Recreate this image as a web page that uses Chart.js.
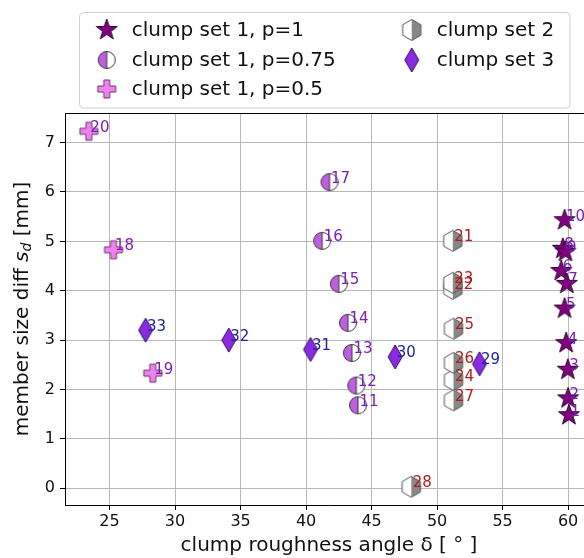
<!DOCTYPE html>
<html><head><meta charset="utf-8">
<script src="https://cdn.jsdelivr.net/npm/chart.js@4.4.1/dist/chart.umd.min.js"></script>
<style>html,body{margin:0;padding:0;overflow:hidden;background:#fff}#wrap{width:620px;height:558px}</style>
</head><body><div id="wrap"><canvas id="c" width="620" height="558" style="width:620px;height:558px"></canvas></div>
<script>
// ---- data ----
const seriesNames = ['clump set 1, p=1','clump set 1, p=0.75','clump set 1, p=0.5','clump set 2','clump set 3'];

const p1Ids = [1,2,3,4,5,6,7,8,9,10];
const p1X = [60.06,60.0,59.98,59.85,59.73,59.48,59.9,59.6,59.8,59.73];
const p1Y = [1.48,1.82,2.40,2.94,3.64,4.40,4.14,4.85,4.79,5.43];

const p075Ids = [11,12,13,14,15,16,17];
const p075X = [43.96,43.83,43.5,43.2,42.5,41.23,41.79];
const p075Y = [1.68,2.08,2.74,3.35,4.14,5.01,6.20];

const p05Ids = [18,19,20];
const p05X = [25.3,28.3,23.42];
const p05Y = [4.83,2.33,7.23];

const set2Ids = [21,22,23,24,25,26,27,28];
const set2X = [51.2,51.2,51.2,51.25,51.25,51.25,51.25,48.03];
const set2Y = [5.01,4.04,4.16,2.19,3.23,2.54,1.78,0.03];

const set3Ids = [29,30,31,32,33];
const set3X = [53.24,46.8,40.34,34.1,27.75];
const set3Y = [2.52,2.66,2.81,3.0,3.2];

const xTicks = [25,30,35,40,45,50,55,60];
const yTicks = [0,1,2,3,4,5,6,7];

// ---- markers ----
function mk(draw){const c=document.createElement('canvas');c.width=30;c.height=30;const g=c.getContext('2d');g.translate(15,15);draw(g);return c;}
const mStar = mk(g=>{g.beginPath();for(let i=0;i<10;i++){const r=i%2?4.4:11;const a=-Math.PI/2+i*Math.PI/5;const x=r*Math.cos(a),y=r*Math.sin(a);i?g.lineTo(x,y):g.moveTo(x,y);}g.closePath();g.fillStyle='#800080';g.fill();g.lineWidth=1;g.strokeStyle='#2b0a2b';g.stroke();});
const mHalfC = mk(g=>{const r=8.5;g.beginPath();g.arc(0,0,r,Math.PI/2,Math.PI*1.5);g.closePath();g.fillStyle='#bf5fdf';g.fill();g.beginPath();g.arc(0,0,r,-Math.PI/2,Math.PI/2);g.closePath();g.fillStyle='#fff';g.fill();g.beginPath();g.arc(0,0,r,0,Math.PI*2);g.moveTo(0,-r);g.lineTo(0,r);g.lineWidth=1;g.strokeStyle='#3a3a3a';g.stroke();});
const mPlus = mk(g=>{const a=3,b=9;const p=[[-a,-b],[a,-b],[a,-a],[b,-a],[b,a],[a,a],[a,b],[-a,b],[-a,a],[-b,a],[-b,-a],[-a,-a]];g.beginPath();p.forEach((q,i)=>i?g.lineTo(q[0],q[1]):g.moveTo(q[0],q[1]));g.closePath();g.fillStyle='#ee82ee';g.fill();g.lineWidth=1;g.strokeStyle='#6d3b6d';g.stroke();});
const mHex = mk(g=>{const r=10.5,c=r*Math.cos(Math.PI/6);g.beginPath();g.moveTo(0,-r);g.lineTo(-c,-r/2);g.lineTo(-c,r/2);g.lineTo(0,r);g.closePath();g.fillStyle='#fff';g.fill();g.beginPath();g.moveTo(0,-r);g.lineTo(c,-r/2);g.lineTo(c,r/2);g.lineTo(0,r);g.closePath();g.fillStyle='#888';g.fill();g.beginPath();g.moveTo(0,-r);g.lineTo(c,-r/2);g.lineTo(c,r/2);g.lineTo(0,r);g.lineTo(-c,r/2);g.lineTo(-c,-r/2);g.closePath();g.lineWidth=1;g.strokeStyle='#555';g.stroke();});
const mDia = mk(g=>{g.beginPath();g.moveTo(0,-12);g.lineTo(7,0);g.lineTo(0,12);g.lineTo(-7,0);g.closePath();g.fillStyle='#8a2be2';g.fill();g.lineWidth=1;g.strokeStyle='#2a0a5a';g.stroke();});
const markers=[mStar,mHalfC,mPlus,mHex,mDia];
const labelColors=['#7a1fb0','#7a1fb0','#7a1fb0','#b01c1c','#2222a0'];

function pts(xs,ys){return xs.map((x,i)=>({x:x,y:ys[i]}));}
const groups=[[p1X,p1Y,p1Ids],[p075X,p075Y,p075Ids],[p05X,p05Y,p05Ids],[set2X,set2Y,set2Ids],[set3X,set3Y,set3Ids]];
const datasets=groups.map((g,i)=>({label:seriesNames[i],data:pts(g[0],g[1]),ids:g[2],labelColor:labelColors[i],pointStyle:markers[i],pointRadius:10,order:5-i}));

const FONT='DejaVu Sans';
const extras={id:'extras',
 beforeDatasetsDraw(chart){const a=chart.chartArea,ctx=chart.ctx;ctx.save();ctx.strokeStyle='#000';ctx.lineWidth=1;ctx.beginPath();ctx.moveTo(a.left,a.top+0.5);ctx.lineTo(a.right,a.top+0.5);ctx.moveTo(a.right-0.5,a.top);ctx.lineTo(a.right-0.5,a.bottom);ctx.stroke();ctx.restore();},
 afterDatasetsDraw(chart){const ctx=chart.ctx;ctx.save();ctx.font='15px "'+FONT+'"';ctx.textAlign='left';ctx.textBaseline='alphabetic';
  chart.data.datasets.forEach((ds,i)=>{const meta=chart.getDatasetMeta(i);ctx.fillStyle=ds.labelColor;meta.data.forEach((el,j)=>{ctx.fillText(String(ds.ids[j]),el.x+1.5,el.y+0.5);});});
  ctx.restore();},
 afterDraw(chart){const ctx=chart.ctx;ctx.save();
  // y title
  ctx.translate(23,309);ctx.rotate(-Math.PI/2);ctx.fillStyle='#111';ctx.textBaseline='middle';ctx.textAlign='left';
  const segs=[['member size diff ','20px "'+FONT+'"',0],['s','italic 20px "'+FONT+'"',0],['d','italic 14px "'+FONT+'"',4],[' [mm]','20px "'+FONT+'"',0]];
  let tot=0;segs.forEach(s=>{ctx.font=s[1];tot+=ctx.measureText(s[0]).width;});
  let x=-tot/2;segs.forEach(s=>{ctx.font=s[1];ctx.fillText(s[0],x,s[2]);x+=ctx.measureText(s[0]).width;});
  ctx.restore();
  // legend
  ctx.save();ctx.fillStyle='rgba(255,255,255,0.85)';ctx.strokeStyle='#d0d0d0';ctx.lineWidth=1;ctx.beginPath();ctx.roundRect(79.5,12.5,490.5,95.5,4);ctx.fill();ctx.stroke();
  const pos=[[106.7,30],[106.7,60],[106.7,89],[411.7,30],[411.7,60]];
  ctx.font='20px "'+FONT+'"';ctx.fillStyle='#111';ctx.textBaseline='middle';ctx.textAlign='left';
  pos.forEach((p,i)=>{const m=markers[i];ctx.drawImage(m,p[0]-15,p[1]-15);ctx.fillText(seriesNames[i],p[0]+25,p[1]+1);});
  ctx.restore();}
};

new Chart(document.getElementById('c'),{type:'scatter',data:{datasets:datasets},
 options:{responsive:false,animation:false,events:[],devicePixelRatio:1,
  layout:{padding:{top:113,right:27,left:0,bottom:0}},
  plugins:{legend:{display:false},tooltip:{enabled:false}},
  scales:{
   x:{type:'linear',min:21.6,max:61.9,afterBuildTicks:s=>{s.ticks=xTicks.map(v=>({value:v}));},afterFit:s=>{s.height=53;},
      grid:{color:'#b8b8b8',lineWidth:1,tickColor:'#000',tickLength:5},border:{color:'#000',width:1},
      ticks:{font:{family:FONT,size:16},color:'#111',padding:2,maxRotation:0,autoSkip:false},
      title:{display:true,text:'clump roughness angle δ [ ° ]',font:{family:FONT,size:20},color:'#111',padding:{top:0,bottom:0}}},
   y:{type:'linear',min:-0.34,max:7.6,afterBuildTicks:s=>{s.ticks=yTicks.map(v=>({value:v}));},afterFit:s=>{s.width=65;},
      grid:{color:'#b8b8b8',lineWidth:1,tickColor:'#000',tickLength:5},border:{color:'#000',width:1},
      ticks:{font:{family:FONT,size:16},color:'#111',padding:5,autoSkip:false}}
  }},
 plugins:[extras]});
</script></body></html>
